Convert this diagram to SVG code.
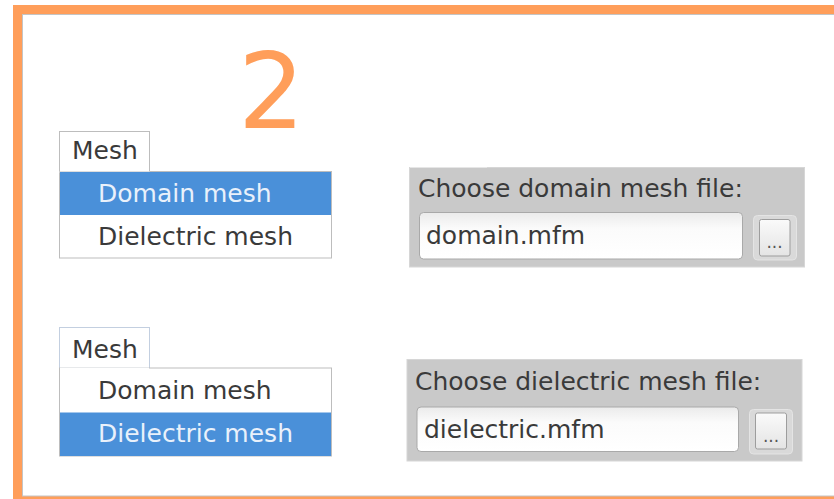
<svg xmlns="http://www.w3.org/2000/svg" width="834" height="499" viewBox="0 0 834 499">
<defs>
<linearGradient id="fieldGrad" x1="0" y1="0" x2="0" y2="1">
<stop offset="0" stop-color="#ebebeb"/>
<stop offset="0.35" stop-color="#fbfbfb"/>
<stop offset="1" stop-color="#ffffff"/>
</linearGradient>
<linearGradient id="btnGrad" x1="0" y1="0" x2="0" y2="1">
<stop offset="0" stop-color="#fafafa"/>
<stop offset="1" stop-color="#e4e4e4"/>
</linearGradient>
</defs>
<style>
text{font-family:"DejaVu Sans","Liberation Sans",sans-serif;font-size:25px;fill:#3a3a3a}
.sel{fill:#e9f1fb}
.box{fill:#ffffff;stroke:#bdbdbd;stroke-width:1}
.blue{fill:#4a90d9}
.panel{fill:#c9c9c9;stroke:#d6d6d6;stroke-width:1}
.field{fill:url(#fieldGrad);stroke:#a9a9a9;stroke-width:1}
.btnOuter{fill:#d9d9d9;stroke:#e4e4e4;stroke-width:1}
.btnInner{fill:url(#btnGrad);stroke:#9d9d9d;stroke-width:1}
.dots{font-size:17px;text-anchor:middle;fill:#555}
</style>
<rect x="0" y="0" width="834" height="499" fill="#ffffff"/>
<g id="frame">
<rect x="13" y="5" width="830" height="500" fill="#ff9e5a"/>
<rect x="22.5" y="14.5" width="830" height="481.5" fill="#ffffff" stroke="#c4c4c4" stroke-width="1"/>
</g>
<g id="step-number">
<text x="238" y="128" style="font-size:105px;fill:#ff9e5a">2</text>
</g>
<g id="mesh-menu-1">
<rect class="box" x="59.5" y="131.5" width="90" height="40"/>
<rect class="box" x="59.5" y="171.5" width="272" height="86.5"/>
<rect x="59.5" y="171.5" width="90" height="1" fill="#ffffff"/>
<rect class="blue" x="60" y="172" width="271" height="43"/>
<text x="72" y="159">Mesh</text>
<text class="sel" x="98" y="201.5">Domain mesh</text>
<text x="98" y="245">Dielectric mesh</text>
</g>
<g id="file-chooser-1">
<rect class="panel" x="409.5" y="167.5" width="395" height="99.5"/>
<line x1="410" y1="167.5" x2="487" y2="167.5" stroke="#e6e6e6" stroke-width="1"/>
<text x="418" y="196.5">Choose domain mesh file:</text>
<rect class="field" x="419.5" y="212.5" width="323" height="46.5" rx="4"/>
<text x="426" y="243.5">domain.mfm</text>
<rect class="btnOuter" x="753.5" y="215.5" width="43" height="44.5" rx="4"/>
<rect class="btnInner" x="759.5" y="219.5" width="30.5" height="36.5" rx="2"/>
<text class="dots" x="774.5" y="248">...</text>
</g>
<g id="mesh-menu-2">
<rect class="box" x="59.5" y="327.5" width="90" height="40.5" style="stroke:#c3cfe0"/>
<rect class="box" x="59.5" y="368" width="272" height="88"/>
<rect x="60" y="367.5" width="89" height="1.5" fill="#ffffff"/>
<rect class="blue" x="60" y="412.5" width="271" height="43.5"/>
<text x="72" y="357.5">Mesh</text>
<text x="98" y="399">Domain mesh</text>
<text class="sel" x="98" y="441.5">Dielectric mesh</text>
</g>
<g id="file-chooser-2">
<rect class="panel" x="407" y="359.5" width="395" height="101.5"/>
<text x="415" y="389.5">Choose dielectric mesh file:</text>
<rect class="field" x="417" y="407" width="321.5" height="44.5" rx="4"/>
<text x="424" y="437.5">dielectric.mfm</text>
<rect class="btnOuter" x="749.5" y="409.5" width="43" height="44.5" rx="4"/>
<rect class="btnInner" x="755.5" y="413" width="31" height="36" rx="2"/>
<text class="dots" x="771" y="441.5">...</text>
</g>
<g id="connectors"/>
</svg>
